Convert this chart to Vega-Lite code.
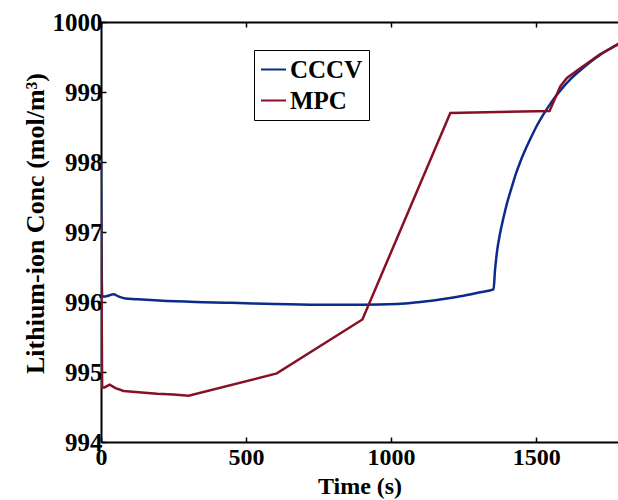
{
  "$schema": "https://vega.github.io/schema/vega-lite/v6.json",
  "width": 517,
  "height": 420,
  "autosize": {"type": "none"},
  "padding": {"left": 101, "top": 22, "right": 0, "bottom": 58},
  "background": "white",
  "config": {
    "view": {"stroke": null},
    "font": "Liberation Serif",
    "axis": {
      "grid": false,
      "domainColor": "black",
      "domainWidth": 2,
      "tickColor": "black",
      "tickWidth": 1.5,
      "tickSize": -5,
      "labelFont": "Liberation Serif",
      "labelFontWeight": "bold",
      "labelFontSize": 25,
      "labelColor": "black",
      "titleFont": "Liberation Serif",
      "titleFontWeight": "bold",
      "titleFontSize": 25,
      "titleColor": "black",
      "labelOverlap": false,
      "labelFlush": false,
      "format": "d"
    }
  },
  "data": {
    "values": [
      {"t": 0, "c": 998.05, "s": "CCCV"},
      {"t": 4, "c": 996.08, "s": "CCCV"},
      {"t": 15, "c": 996.08, "s": "CCCV"},
      {"t": 25, "c": 996.09, "s": "CCCV"},
      {"t": 43, "c": 996.11, "s": "CCCV"},
      {"t": 60, "c": 996.08, "s": "CCCV"},
      {"t": 84, "c": 996.05, "s": "CCCV"},
      {"t": 120, "c": 996.04, "s": "CCCV"},
      {"t": 200, "c": 996.02, "s": "CCCV"},
      {"t": 325, "c": 996.0, "s": "CCCV"},
      {"t": 450, "c": 995.99, "s": "CCCV"},
      {"t": 600, "c": 995.97, "s": "CCCV"},
      {"t": 750, "c": 995.96, "s": "CCCV"},
      {"t": 900, "c": 995.96, "s": "CCCV"},
      {"t": 1020, "c": 995.97, "s": "CCCV"},
      {"t": 1100, "c": 996.0, "s": "CCCV"},
      {"t": 1192, "c": 996.05, "s": "CCCV"},
      {"t": 1250, "c": 996.09, "s": "CCCV"},
      {"t": 1307, "c": 996.14, "s": "CCCV"},
      {"t": 1353, "c": 996.18, "s": "CCCV"},
      {"t": 1358, "c": 996.45, "s": "CCCV"},
      {"t": 1365, "c": 996.72, "s": "CCCV"},
      {"t": 1375, "c": 996.97, "s": "CCCV"},
      {"t": 1387, "c": 997.2, "s": "CCCV"},
      {"t": 1400, "c": 997.42, "s": "CCCV"},
      {"t": 1415, "c": 997.63, "s": "CCCV"},
      {"t": 1430, "c": 997.83, "s": "CCCV"},
      {"t": 1445, "c": 998.0, "s": "CCCV"},
      {"t": 1462, "c": 998.17, "s": "CCCV"},
      {"t": 1480, "c": 998.33, "s": "CCCV"},
      {"t": 1500, "c": 998.5, "s": "CCCV"},
      {"t": 1525, "c": 998.68, "s": "CCCV"},
      {"t": 1555, "c": 998.87, "s": "CCCV"},
      {"t": 1585, "c": 999.03, "s": "CCCV"},
      {"t": 1620, "c": 999.19, "s": "CCCV"},
      {"t": 1652, "c": 999.31, "s": "CCCV"},
      {"t": 1690, "c": 999.44, "s": "CCCV"},
      {"t": 1720, "c": 999.53, "s": "CCCV"},
      {"t": 1760, "c": 999.63, "s": "CCCV"},
      {"t": 1790, "c": 999.7, "s": "CCCV"},
      {"t": 0, "c": 997.2, "s": "MPC"},
      {"t": 4, "c": 994.78, "s": "MPC"},
      {"t": 12, "c": 994.78, "s": "MPC"},
      {"t": 30, "c": 994.82, "s": "MPC"},
      {"t": 50, "c": 994.77, "s": "MPC"},
      {"t": 78, "c": 994.73, "s": "MPC"},
      {"t": 130, "c": 994.71, "s": "MPC"},
      {"t": 193, "c": 994.69, "s": "MPC"},
      {"t": 250, "c": 994.68, "s": "MPC"},
      {"t": 302, "c": 994.66, "s": "MPC"},
      {"t": 606, "c": 994.98, "s": "MPC"},
      {"t": 901, "c": 995.75, "s": "MPC"},
      {"t": 1204, "c": 998.7, "s": "MPC"},
      {"t": 1546, "c": 998.73, "s": "MPC"},
      {"t": 1583, "c": 999.08, "s": "MPC"},
      {"t": 1606, "c": 999.2, "s": "MPC"},
      {"t": 1652, "c": 999.34, "s": "MPC"},
      {"t": 1720, "c": 999.54, "s": "MPC"},
      {"t": 1790, "c": 999.7, "s": "MPC"}
    ]
  },
  "layer": [
    {
      "transform": [{"filter": "datum.s === 'CCCV'"}],
      "mark": {"type": "line", "strokeWidth": 2.5, "clip": true, "interpolate": "monotone"},
      "encoding": {
        "x": {
          "field": "t", "type": "quantitative",
          "scale": {"domain": [0, 1782], "nice": false, "zero": false},
          "axis": {"title": "Time (s)", "values": [0, 500, 1000, 1500], "labelPadding": 8, "labelFontSize": 24, "titleY": 32, "titleBaseline": "top", "titleFontSize": 24}
        },
        "y": {
          "field": "c", "type": "quantitative",
          "scale": {"domain": [994, 1000], "nice": false, "zero": false},
          "axis": {"title": "Lithium-ion Conc (mol/m³)", "values": [994, 995, 996, 997, 998, 999, 1000], "labelPadding": 4, "titleX": -66, "titleY": 201, "titleBaseline": "middle", "titleFontSize": 26}
        },
        "color": {
          "field": "s", "type": "nominal",
          "scale": {"domain": ["CCCV", "MPC"], "range": ["#0b2a8a", "#861126"]},
          "legend": {
            "title": null,
            "orient": "none",
            "legendX": 153,
            "legendY": 28,
            "strokeColor": "black",
            "fillColor": "white",
            "padding": 6,
            "symbolType": "stroke",
            "symbolSize": 625,
            "symbolStrokeWidth": 2,
            "labelFont": "Liberation Serif",
            "labelFontWeight": "bold",
            "labelFontSize": 25,
            "labelColor": "black",
            "labelOffset": 3,
            "rowPadding": 4
          }
        },
        "order": {"field": "t", "type": "quantitative"}
      }
    },
    {
      "mark": {"type": "rule", "opacity": 0},
      "encoding": {
        "x": {
          "datum": 0, "type": "quantitative",
          "axis": {"orient": "top", "title": null, "labels": false, "values": [0, 500, 1000, 1500]}
        }
      }
    },
    {
      "transform": [{"filter": "datum.s === 'MPC'"}],
      "mark": {"type": "line", "strokeWidth": 2.5, "clip": true},
      "encoding": {
        "x": {"field": "t", "type": "quantitative", "axis": null},
        "y": {"field": "c", "type": "quantitative"},
        "color": {"field": "s", "type": "nominal"},
        "order": {"field": "t", "type": "quantitative"}
      }
    }
  ],
  "resolve": {"axis": {"x": "independent"}}
}
